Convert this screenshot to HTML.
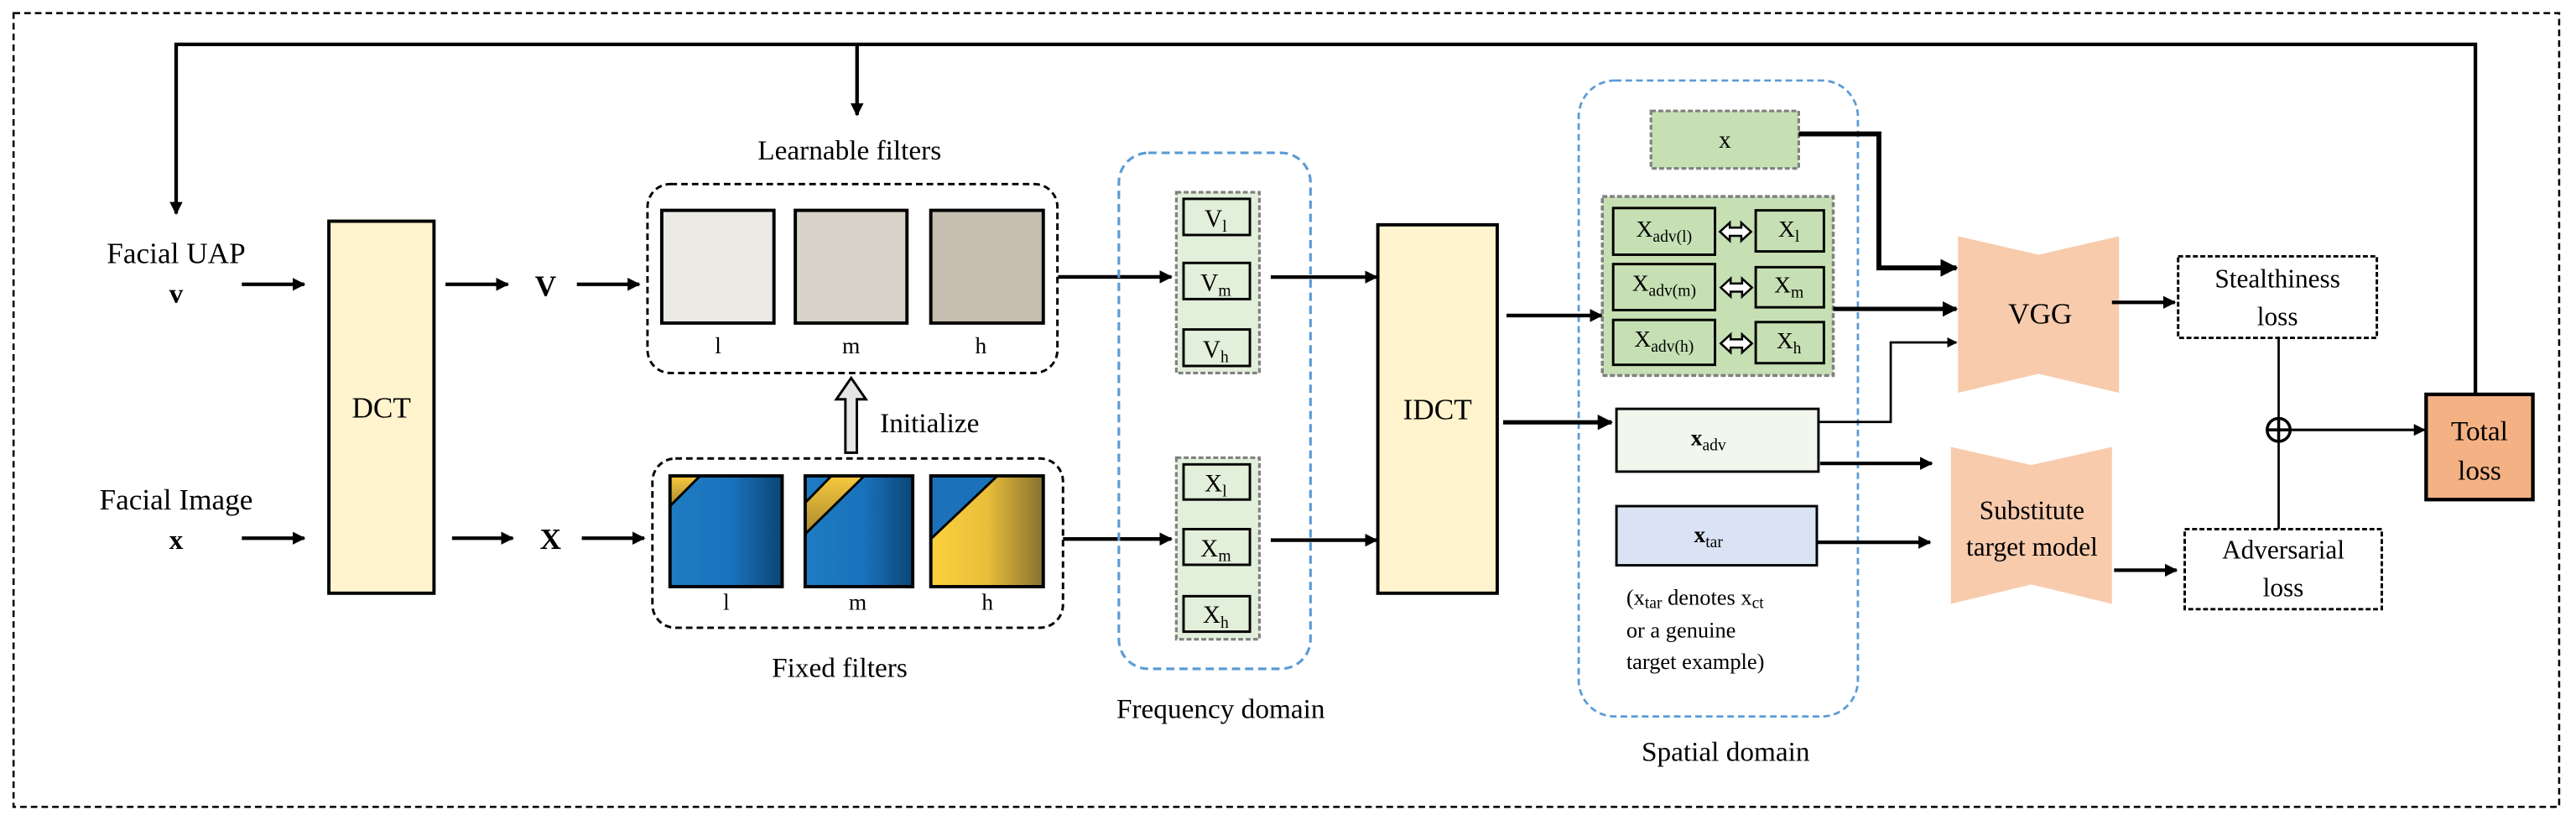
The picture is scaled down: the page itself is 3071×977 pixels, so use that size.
<!DOCTYPE html>
<html><head><meta charset="utf-8"><style>
html,body{margin:0;padding:0;background:#fff;}
svg{display:block;}
text,tspan{font-family:"Liberation Serif","DejaVu Serif",serif;fill:#000;}
</style></head><body>
<svg width="3071" height="977" viewBox="0 0 1568 499" xmlns="http://www.w3.org/2000/svg" font-family="Liberation Serif, DejaVu Serif, serif">
<defs>
<marker id="a" viewBox="0 0 10 10" refX="9" refY="5" markerWidth="4.5" markerHeight="4.5" orient="auto" markerUnits="strokeWidth"><path d="M0,0L10,5L0,10z" fill="#000"/></marker>
<marker id="b" viewBox="0 0 10 10" refX="9" refY="5" markerWidth="3.6" markerHeight="3.6" orient="auto" markerUnits="strokeWidth"><path d="M0,0L10,5L0,10z" fill="#000"/></marker>
<linearGradient id="blue" x1="0" x2="1" y1="0" y2="0"><stop offset="0" stop-color="#1E7CC2"/><stop offset="0.55" stop-color="#1A72BC"/><stop offset="1" stop-color="#0A4575"/></linearGradient>
<linearGradient id="yel" x1="0" x2="1" y1="0" y2="0"><stop offset="0" stop-color="#FDD13C"/><stop offset="0.5" stop-color="#E9BE3B"/><stop offset="1" stop-color="#86712F"/></linearGradient>
<linearGradient id="yel2" x1="0" x2="0" y1="0" y2="1"><stop offset="0" stop-color="#F8C93E"/><stop offset="1" stop-color="#A8892E"/></linearGradient>
</defs>

<rect x="8" y="8" width="1550" height="483" fill="none" stroke="#000" stroke-width="1.3" stroke-dasharray="4,2.5"/>

<polyline points="1507,240 1507,27 107,27 107,130" fill="none" stroke="#000" stroke-width="2.2" marker-end="url(#b)"/>
<line x1="521.6" y1="27" x2="521.6" y2="70" stroke="#000" stroke-width="2.2" marker-end="url(#b)"/>

<text x="107" y="160" font-size="18" text-anchor="middle">Facial UAP</text>
<text x="107" y="184" font-size="17" font-weight="bold" text-anchor="middle">v</text>
<text x="107" y="310" font-size="18" text-anchor="middle">Facial Image</text>
<text x="107" y="334" font-size="17" font-weight="bold" text-anchor="middle">x</text>
<line x1="147" y1="173" x2="185" y2="173" stroke="#000" stroke-width="2.2" marker-end="url(#b)"/>
<line x1="147" y1="327.5" x2="185" y2="327.5" stroke="#000" stroke-width="2.2" marker-end="url(#b)"/>

<rect x="200" y="134.6" width="64" height="226.4" fill="#FFF4CE" stroke="#000" stroke-width="2"/>
<text x="232" y="254" font-size="18" text-anchor="middle">DCT</text>

<line x1="271" y1="173" x2="309" y2="173" stroke="#000" stroke-width="2.2" marker-end="url(#b)"/>
<text x="332" y="180" font-size="18" font-weight="bold" text-anchor="middle">V</text>
<line x1="351" y1="173" x2="389" y2="173" stroke="#000" stroke-width="2.2" marker-end="url(#b)"/>
<line x1="275" y1="327.5" x2="312" y2="327.5" stroke="#000" stroke-width="2.2" marker-end="url(#b)"/>
<text x="335" y="334" font-size="18" font-weight="bold" text-anchor="middle">X</text>
<line x1="354" y1="327.5" x2="392" y2="327.5" stroke="#000" stroke-width="2.2" marker-end="url(#b)"/>

<text x="517" y="97" font-size="17" text-anchor="middle">Learnable filters</text>
<rect x="394" y="112" width="249.6" height="115" rx="14" fill="none" stroke="#000" stroke-width="1.5" stroke-dasharray="4,2.5"/>
<rect x="402.7" y="128" width="68.3" height="68.6" fill="#ECEAE5" stroke="#000" stroke-width="2"/>
<rect x="484" y="128" width="68" height="68.6" fill="#D8D3C9" stroke="#000" stroke-width="2"/>
<rect x="566.5" y="128" width="68.5" height="68.6" fill="#C6BEB1" stroke="#000" stroke-width="2"/>
<text x="437" y="215" font-size="14" text-anchor="middle">l</text>
<text x="518" y="215" font-size="14" text-anchor="middle">m</text>
<text x="597" y="215" font-size="14" text-anchor="middle">h</text>

<path d="M514.5,275.5 L514.5,243 L509,243 L518,230 L527,243 L521.5,243 L521.5,275.5 Z" fill="#E6E6E6" stroke="#000" stroke-width="1.5"/>
<text x="535.6" y="263" font-size="17">Initialize</text>

<rect x="397" y="279" width="250" height="103" rx="14" fill="none" stroke="#000" stroke-width="1.5" stroke-dasharray="4,2.5"/>
<g>
<rect x="407.7" y="289.6" width="68.3" height="67.4" fill="url(#blue)"/>
<polygon points="407.7,289.6 426,289.6 407.7,308" fill="url(#yel2)"/>
<line x1="426" y1="289.6" x2="407.7" y2="308" stroke="#000" stroke-width="1.5"/>
<rect x="407.7" y="289.6" width="68.3" height="67.4" fill="none" stroke="#000" stroke-width="2"/>
</g>
<g>
<rect x="490" y="289.6" width="65.5" height="67.4" fill="url(#blue)"/>
<polygon points="506,289.6 526,289.6 490,325 490,306" fill="url(#yel2)"/>
<line x1="506" y1="289.6" x2="490" y2="306" stroke="#000" stroke-width="1.5"/>
<line x1="526" y1="289.6" x2="490" y2="325" stroke="#000" stroke-width="1.5"/>
<rect x="490" y="289.6" width="65.5" height="67.4" fill="none" stroke="#000" stroke-width="2"/>
</g>
<g>
<rect x="566.5" y="289.6" width="68.5" height="67.4" fill="url(#yel)"/>
<polygon points="566.5,289.6 607,289.6 566.5,328" fill="#1B72BA"/>
<line x1="607" y1="289.6" x2="566.5" y2="328" stroke="#000" stroke-width="1.5"/>
<rect x="566.5" y="289.6" width="68.5" height="67.4" fill="none" stroke="#000" stroke-width="2"/>
</g>
<text x="442" y="371" font-size="14" text-anchor="middle">l</text>
<text x="522" y="371" font-size="14" text-anchor="middle">m</text>
<text x="601" y="371" font-size="14" text-anchor="middle">h</text>
<text x="511" y="412" font-size="17" text-anchor="middle">Fixed filters</text>

<line x1="644" y1="168.5" x2="713" y2="168.5" stroke="#000" stroke-width="2.2" marker-end="url(#b)"/>
<line x1="647" y1="328" x2="713" y2="328" stroke="#000" stroke-width="2.2" marker-end="url(#b)"/>

<rect x="681" y="93" width="116.7" height="314" rx="18" fill="none" stroke="#5B9BD5" stroke-width="1.6" stroke-dasharray="5,3"/>
<text x="743" y="437" font-size="17" text-anchor="middle">Frequency domain</text>
<rect x="716" y="117" width="50.6" height="110" fill="#E2EFDA" stroke="#808080" stroke-width="1.6" stroke-dasharray="3,1.5"/>
<rect x="720.4" y="121" width="40.4" height="22" fill="#E2EFDA" stroke="#000" stroke-width="1.5"/>
<rect x="720.4" y="160" width="40.4" height="22" fill="#E2EFDA" stroke="#000" stroke-width="1.5"/>
<rect x="720.4" y="200.5" width="40.4" height="22.2" fill="#E2EFDA" stroke="#000" stroke-width="1.5"/>
<text x="740" y="138" font-size="15" text-anchor="middle">V<tspan font-size="10" dy="3">l</tspan></text>
<text x="740" y="177" font-size="15" text-anchor="middle">V<tspan font-size="10" dy="3">m</tspan></text>
<text x="740" y="217.5" font-size="15" text-anchor="middle">V<tspan font-size="10" dy="3">h</tspan></text>
<rect x="716" y="278.5" width="50.6" height="110.5" fill="#E2EFDA" stroke="#808080" stroke-width="1.6" stroke-dasharray="3,1.5"/>
<rect x="720.4" y="282.6" width="40.4" height="21.4" fill="#E2EFDA" stroke="#000" stroke-width="1.5"/>
<rect x="720.4" y="322" width="40.4" height="21.7" fill="#E2EFDA" stroke="#000" stroke-width="1.5"/>
<rect x="720.4" y="362.8" width="40.4" height="21.6" fill="#E2EFDA" stroke="#000" stroke-width="1.5"/>
<text x="740" y="299" font-size="15" text-anchor="middle">X<tspan font-size="10" dy="3">l</tspan></text>
<text x="740" y="338.5" font-size="15" text-anchor="middle">X<tspan font-size="10" dy="3">m</tspan></text>
<text x="740" y="379" font-size="15" text-anchor="middle">X<tspan font-size="10" dy="3">h</tspan></text>

<line x1="773.5" y1="168.6" x2="838" y2="168.6" stroke="#000" stroke-width="2.2" marker-end="url(#b)"/>
<line x1="773.5" y1="328.7" x2="838" y2="328.7" stroke="#000" stroke-width="2.2" marker-end="url(#b)"/>

<rect x="838.7" y="136.8" width="72.7" height="224.2" fill="#FFF4CE" stroke="#000" stroke-width="2"/>
<text x="875" y="255" font-size="18" text-anchor="middle">IDCT</text>

<rect x="961" y="49" width="170" height="387" rx="22" fill="none" stroke="#5B9BD5" stroke-width="1.4" stroke-dasharray="4,2.5"/>
<text x="1050.5" y="463" font-size="17" text-anchor="middle">Spatial domain</text>

<rect x="1005" y="67.5" width="90" height="35" fill="#C6E0B4" stroke="#808080" stroke-width="1.6" stroke-dasharray="3,1.5"/>
<text x="1050" y="90" font-size="15" text-anchor="middle">x</text>
<polyline points="1095,81.5 1143.8,81.5 1143.8,163 1191,163" fill="none" stroke="#000" stroke-width="3" marker-end="url(#b)"/>

<rect x="975.4" y="119.6" width="140.6" height="108.9" fill="#C6E0B4" stroke="#808080" stroke-width="1.8" stroke-dasharray="3,1.5"/>
<rect x="982" y="126.6" width="62" height="28.4" fill="#C6E0B4" stroke="#000" stroke-width="1.5"/>
<rect x="1068.8" y="128" width="41.5" height="25" fill="#C6E0B4" stroke="#000" stroke-width="1.5"/>
<rect x="982" y="160.7" width="62" height="28" fill="#C6E0B4" stroke="#000" stroke-width="1.5"/>
<rect x="1068.8" y="162.6" width="41.5" height="24.4" fill="#C6E0B4" stroke="#000" stroke-width="1.5"/>
<rect x="982" y="194.7" width="62" height="27.3" fill="#C6E0B4" stroke="#000" stroke-width="1.5"/>
<rect x="1068.8" y="196" width="41.5" height="25" fill="#C6E0B4" stroke="#000" stroke-width="1.5"/>
<text x="1013" y="144" font-size="14" text-anchor="middle">X<tspan font-size="10" dy="3">adv(l)</tspan></text>
<text x="1013" y="177" font-size="14" text-anchor="middle">X<tspan font-size="10" dy="3">adv(m)</tspan></text>
<text x="1013" y="211" font-size="14" text-anchor="middle">X<tspan font-size="10" dy="3">adv(h)</tspan></text>
<text x="1089" y="144" font-size="14" text-anchor="middle">X<tspan font-size="10" dy="3">l</tspan></text>
<text x="1089" y="178" font-size="14" text-anchor="middle">X<tspan font-size="10" dy="3">m</tspan></text>
<text x="1089" y="212" font-size="14" text-anchor="middle">X<tspan font-size="10" dy="3">h</tspan></text>
<g fill="#fff" stroke="#000" stroke-width="1.3">
<path d="M1047,141 L1053,135.5 L1053,138.5 L1060,138.5 L1060,135.5 L1066,141 L1060,146.5 L1060,143.5 L1053,143.5 L1053,146.5 Z"/>
<path d="M1047.5,175 L1053.5,169.5 L1053.5,172.5 L1060.5,172.5 L1060.5,169.5 L1066.5,175 L1060.5,180.5 L1060.5,177.5 L1053.5,177.5 L1053.5,180.5 Z"/>
<path d="M1047.5,209 L1053.5,203.5 L1053.5,206.5 L1060.5,206.5 L1060.5,203.5 L1066.5,209 L1060.5,214.5 L1060.5,211.5 L1053.5,211.5 L1053.5,214.5 Z"/>
</g>
<line x1="917" y1="192" x2="975" y2="192" stroke="#000" stroke-width="2.2" marker-end="url(#b)"/>
<line x1="1116" y1="188" x2="1191" y2="188" stroke="#000" stroke-width="2.6" marker-end="url(#b)"/>

<line x1="915" y1="257" x2="981" y2="257" stroke="#000" stroke-width="2.6" marker-end="url(#b)"/>
<rect x="984" y="248.8" width="123" height="38.2" fill="#F2F7EE" stroke="#000" stroke-width="1.5"/>
<text x="1040" y="271" font-size="14" font-weight="bold" text-anchor="middle" fill="#333">x<tspan font-size="10" font-weight="normal" dy="3">adv</tspan></text>
<polyline points="1107,256.8 1151,256.8 1151,208.4 1191,208.4" fill="none" stroke="#000" stroke-width="1.4" marker-end="url(#a)"/>
<line x1="1108" y1="282" x2="1176" y2="282" stroke="#000" stroke-width="2.2" marker-end="url(#b)"/>

<rect x="984" y="308" width="122" height="36" fill="#DAE3F3" stroke="#000" stroke-width="1.5"/>
<text x="1040" y="330" font-size="14" font-weight="bold" text-anchor="middle" fill="#333">x<tspan font-size="10" font-weight="normal" dy="3">tar</tspan></text>
<line x1="1106" y1="330" x2="1175" y2="330" stroke="#000" stroke-width="2.2" marker-end="url(#b)"/>
<text x="990" y="368" font-size="13.5">(x<tspan font-size="10" dy="2">tar</tspan><tspan dy="-2"> denotes x</tspan><tspan font-size="10" dy="2">ct</tspan></text>
<text x="990" y="388" font-size="13.5">or a genuine</text>
<text x="990" y="407" font-size="13.5">target example)</text>

<polygon points="1192,143.8 1241,155 1290,143.8 1290,239 1241,227.5 1192,239" fill="#F8CBAD"/>
<text x="1242" y="197" font-size="18" text-anchor="middle">VGG</text>
<polygon points="1187.6,272 1236.6,283 1285.7,272 1285.7,367.5 1236.6,355.7 1187.6,367.5" fill="#F8CBAD"/>
<text x="1237" y="316" font-size="16" text-anchor="middle">Substitute</text>
<text x="1237" y="338" font-size="16" text-anchor="middle">target model</text>

<line x1="1285.7" y1="184" x2="1324" y2="184" stroke="#000" stroke-width="2.2" marker-end="url(#b)"/>
<rect x="1326" y="156" width="121" height="49.6" fill="#fff" stroke="#000" stroke-width="1.5" stroke-dasharray="3,1.5"/>
<text x="1386.5" y="175" font-size="16" text-anchor="middle">Stealthiness</text>
<text x="1386.5" y="198" font-size="16" text-anchor="middle">loss</text>

<line x1="1287" y1="347" x2="1325" y2="347" stroke="#000" stroke-width="2.2" marker-end="url(#b)"/>
<rect x="1330" y="322" width="120" height="48.7" fill="#fff" stroke="#000" stroke-width="1.5" stroke-dasharray="3,1.5"/>
<text x="1390" y="340" font-size="16" text-anchor="middle">Adversarial</text>
<text x="1390" y="363" font-size="16" text-anchor="middle">loss</text>

<line x1="1387.2" y1="205.6" x2="1387.2" y2="322" stroke="#000" stroke-width="1.4"/>
<circle cx="1387.2" cy="261.6" r="7" fill="#fff" stroke="#000" stroke-width="1.8"/>
<line x1="1380.2" y1="261.6" x2="1394.2" y2="261.6" stroke="#000" stroke-width="1.8"/>
<line x1="1387.2" y1="254.6" x2="1387.2" y2="268.6" stroke="#000" stroke-width="1.8"/>
<line x1="1394.2" y1="261.6" x2="1476" y2="261.6" stroke="#000" stroke-width="1.6" marker-end="url(#a)"/>

<rect x="1477" y="240" width="65" height="64" fill="#F4B183" stroke="#000" stroke-width="2.2"/>
<text x="1509.5" y="268" font-size="17" text-anchor="middle">Total</text>
<text x="1509.5" y="292" font-size="17" text-anchor="middle">loss</text>
</svg>
</body></html>
